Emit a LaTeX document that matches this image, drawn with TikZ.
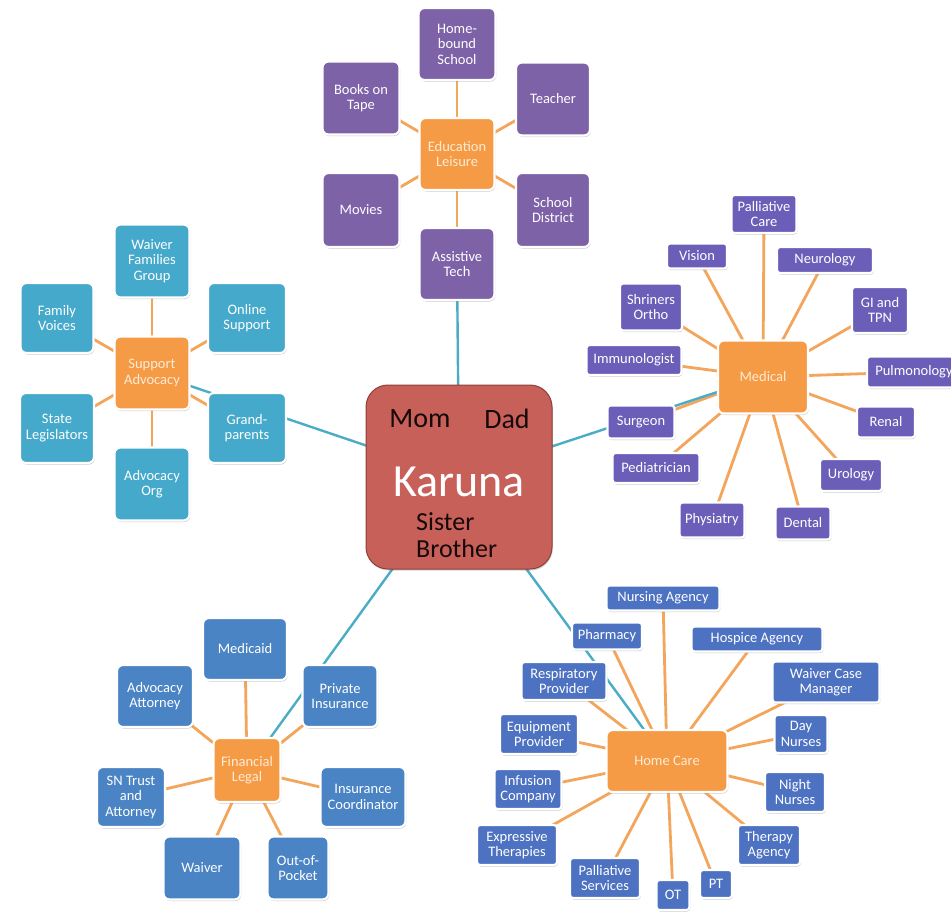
\documentclass[tikz,border=0pt]{standalone}
\usepackage{fontspec}
\setmainfont{Carlito}
\usetikzlibrary{shadows,backgrounds}
\definecolor{eduC}{HTML}{7E62A8}
\definecolor{supC}{HTML}{45A9CB}
\definecolor{medC}{HTML}{6B5EB8}
\definecolor{homeC}{HTML}{4D72C2}
\definecolor{finC}{HTML}{4A84C4}
\definecolor{hubC}{HTML}{F59B45}
\definecolor{spokeC}{HTML}{F3A55B}
\definecolor{tealC}{HTML}{4BACC6}
\definecolor{karC}{HTML}{C8605A}
\definecolor{karD}{HTML}{8E3F3B}
\definecolor{hubText}{HTML}{FDEBD6}
\newcommand\leaffont{\fontsize{14.5}{15.5}\selectfont}
\tikzset{
  box/.style={fill=#1, draw=white, line width=2.2pt, text=white, align=center,
    font=\leaffont, inner sep=1pt, rounded corners=6pt,
    drop shadow={shadow xshift=0.8pt, shadow yshift=-1.5pt, opacity=0.35, fill=black!60}},
  sbox/.style={box=#1, rounded corners=3pt},
  hub/.style={box=hubC, text=hubText},
  spoke/.style={draw=spokeC, line width=2.8pt},
  link/.style={draw=tealC, line width=2.4pt},
  famtext/.style={font=\fontsize{26}{27}\selectfont, text=black!85!karD, inner sep=0pt},
}
\begin{document}
\begin{tikzpicture}[x=1pt,y=-1pt]
\useasboundingbox (0,0) rectangle (951,911);

% ---- center
\node[fill=karC, draw=karD, line width=1pt, rounded corners=22pt,
      minimum width=186, minimum height=184,
      drop shadow={shadow xshift=0.8pt, shadow yshift=-1.5pt, opacity=0.3, fill=black!60}] (K) at (459,477) {};
\node[famtext, font=\fontsize{28}{30}\selectfont] (mom) at (420,419) {Mom};
\node[famtext, font=\fontsize{28}{30}\selectfont] (dad) at (507,419) {Dad};
\node[font=\fontsize{46}{48}\selectfont, text=white] (kar) at (459,482) {Karuna};
\node[famtext, anchor=base west] (sis) at (416,530) {Sister};
\node[famtext, anchor=base west] (bro) at (416,557) {Brother};

% ---- Education / Leisure
\node[hub, minimum width=75, minimum height=72] (e0) at (457,154) {Education\\Leisure};
\node[box=eduC, minimum width=77, minimum height=72] (e1) at (457,44) {Home-\\bound\\School};
\node[box=eduC, minimum width=77, minimum height=73] (e2) at (361,98) {Books on\\Tape};
\node[box=eduC, minimum width=74, minimum height=73] (e3) at (553,99) {Teacher};
\node[box=eduC, minimum width=77, minimum height=74] (e4) at (361,210) {Movies};
\node[box=eduC, minimum width=74, minimum height=74] (e5) at (553,210) {School\\District};
\node[box=eduC, minimum width=75, minimum height=72] (e6) at (457,264) {Assistive\\Tech};

% ---- Support / Advocacy
\node[hub, minimum width=75, minimum height=73] (s0) at (152,373) {Support\\Advocacy};
\node[box=supC, minimum width=75, minimum height=73] (s1) at (152,261) {Waiver\\Families\\Group};
\node[box=supC, minimum width=73, minimum height=70] (s2) at (57,318) {Family\\Voices};
\node[box=supC, minimum width=78, minimum height=70] (s3) at (247,318) {Online\\Support};
\node[box=supC, minimum width=74, minimum height=70] (s4) at (57,428) {State\\Legislators};
\node[box=supC, minimum width=78, minimum height=70] (s5) at (247,428) {Grand-\\parents};
\node[box=supC, minimum width=75, minimum height=73] (s6) at (152,484) {Advocacy\\Org};

% ---- Medical
\node[hub, minimum width=90, minimum height=73] (m0) at (763,377) {Medical};
\node[sbox=medC, minimum width=65, minimum height=38] (m1) at (764,214) {Palliative\\Care};
\node[sbox=medC, minimum width=60, minimum height=25] (m2) at (697,256) {Vision};
\node[sbox=medC, minimum width=96, minimum height=26] (m3) at (825,260) {Neurology};
\node[sbox=medC, minimum width=62, minimum height=47] (m4) at (651,307) {Shriners\\Ortho};
\node[sbox=medC, minimum width=56, minimum height=46] (m5) at (880,310) {GI and\\TPN};
\node[sbox=medC, minimum width=95, minimum height=30] (m6) at (634,360) {Immunologist};
\node[sbox=medC, minimum width=94, minimum height=31] (m7) at (914,372) {Pulmonology};
\node[sbox=medC, minimum width=67, minimum height=33] (m8) at (641,422) {Surgeon};
\node[sbox=medC, minimum width=58, minimum height=31] (m9) at (886,422) {Renal};
\node[sbox=medC, minimum width=87, minimum height=30] (m10) at (656,468) {Pediatrician};
\node[sbox=medC, minimum width=62, minimum height=32] (m11) at (851,475) {Urology};
\node[sbox=medC, minimum width=65, minimum height=35] (m12) at (712,520) {Physiatry};
\node[sbox=medC, minimum width=55, minimum height=33] (m13) at (803,523) {Dental};

% ---- Home Care
\node[hub, minimum width=121, minimum height=62] (h0) at (667,761) {Home Care};
\node[sbox=homeC, minimum width=113, minimum height=25] (h1) at (663,598) {Nursing Agency};
\node[sbox=homeC, minimum width=70, minimum height=27] (h2) at (607,636) {Pharmacy};
\node[sbox=homeC, minimum width=131, minimum height=25] (h3) at (757,639) {Hospice Agency};
\node[sbox=homeC, minimum width=85, minimum height=38] (h4) at (564,681) {Respiratory\\Provider};
\node[sbox=homeC, minimum width=107, minimum height=41] (h5) at (826,682) {Waiver Case\\Manager};
\node[sbox=homeC, minimum width=78, minimum height=40] (h6) at (539,734) {Equipment\\Provider};
\node[sbox=homeC, minimum width=53, minimum height=38] (h7) at (801,734) {Day\\Nurses};
\node[sbox=homeC, minimum width=67, minimum height=40] (h8) at (528,789) {Infusion\\Company};
\node[sbox=homeC, minimum width=60, minimum height=40] (h9) at (795,792) {Night\\Nurses};
\node[sbox=homeC, minimum width=80, minimum height=40] (h10) at (517,845) {Expressive\\Therapies};
\node[sbox=homeC, minimum width=62, minimum height=40] (h11) at (769,845) {Therapy\\Agency};
\node[sbox=homeC, minimum width=70, minimum height=40] (h12) at (605,878) {Palliative\\Services};
\node[sbox=homeC, minimum width=33, minimum height=30] (h13) at (673,895) {OT};
\node[sbox=homeC, minimum width=32, minimum height=28] (h14) at (716,884) {PT};

% ---- Financial / Legal
\node[hub, minimum width=67, minimum height=64] (f0) at (247,770) {Financial\\Legal};
\node[box=finC, minimum width=84, minimum height=62] (f1) at (245,649) {Medicaid};
\node[box=finC, minimum width=76, minimum height=62] (f2) at (155,696) {Advocacy\\Attorney};
\node[box=finC, minimum width=75, minimum height=62] (f3) at (340,696) {Private\\Insurance};
\node[box=finC, minimum width=68, minimum height=60] (f4) at (131,797) {SN Trust\\and\\Attorney};
\node[box=finC, minimum width=85, minimum height=60] (f5) at (363,797) {Insurance\\Coordinator};
\node[box=finC, minimum width=77, minimum height=63] (f6) at (202,868) {Waiver};
\node[box=finC, minimum width=61, minimum height=63] (f7) at (298,868) {Out-of-\\Pocket};

\begin{scope}[on background layer]
  \fill[white] (0,0) rectangle (951,911);
  \foreach \i in {1,...,6} \draw[spoke] (e0.center) -- (e\i.center);
  \foreach \i in {1,...,6} \draw[spoke] (s0.center) -- (s\i.center);
  \foreach \i in {1,...,13} \draw[spoke] (m0.center) -- (m\i.center);
  \foreach \i in {1,...,14} \draw[spoke] (h0.center) -- (h\i.center);
  \foreach \i in {1,...,7} \draw[spoke] (f0.center) -- (f\i.center);
  \draw[link] (K.center) -- (e6.center);
  \draw[link] (K.center) -- (s0.center);
  \draw[link] (K.center) -- (m0.center);
  \draw[link] (K.center) -- (h0.center);
  \draw[link] (K.center) -- (f0.center);
\end{scope}
\end{tikzpicture}
\end{document}
